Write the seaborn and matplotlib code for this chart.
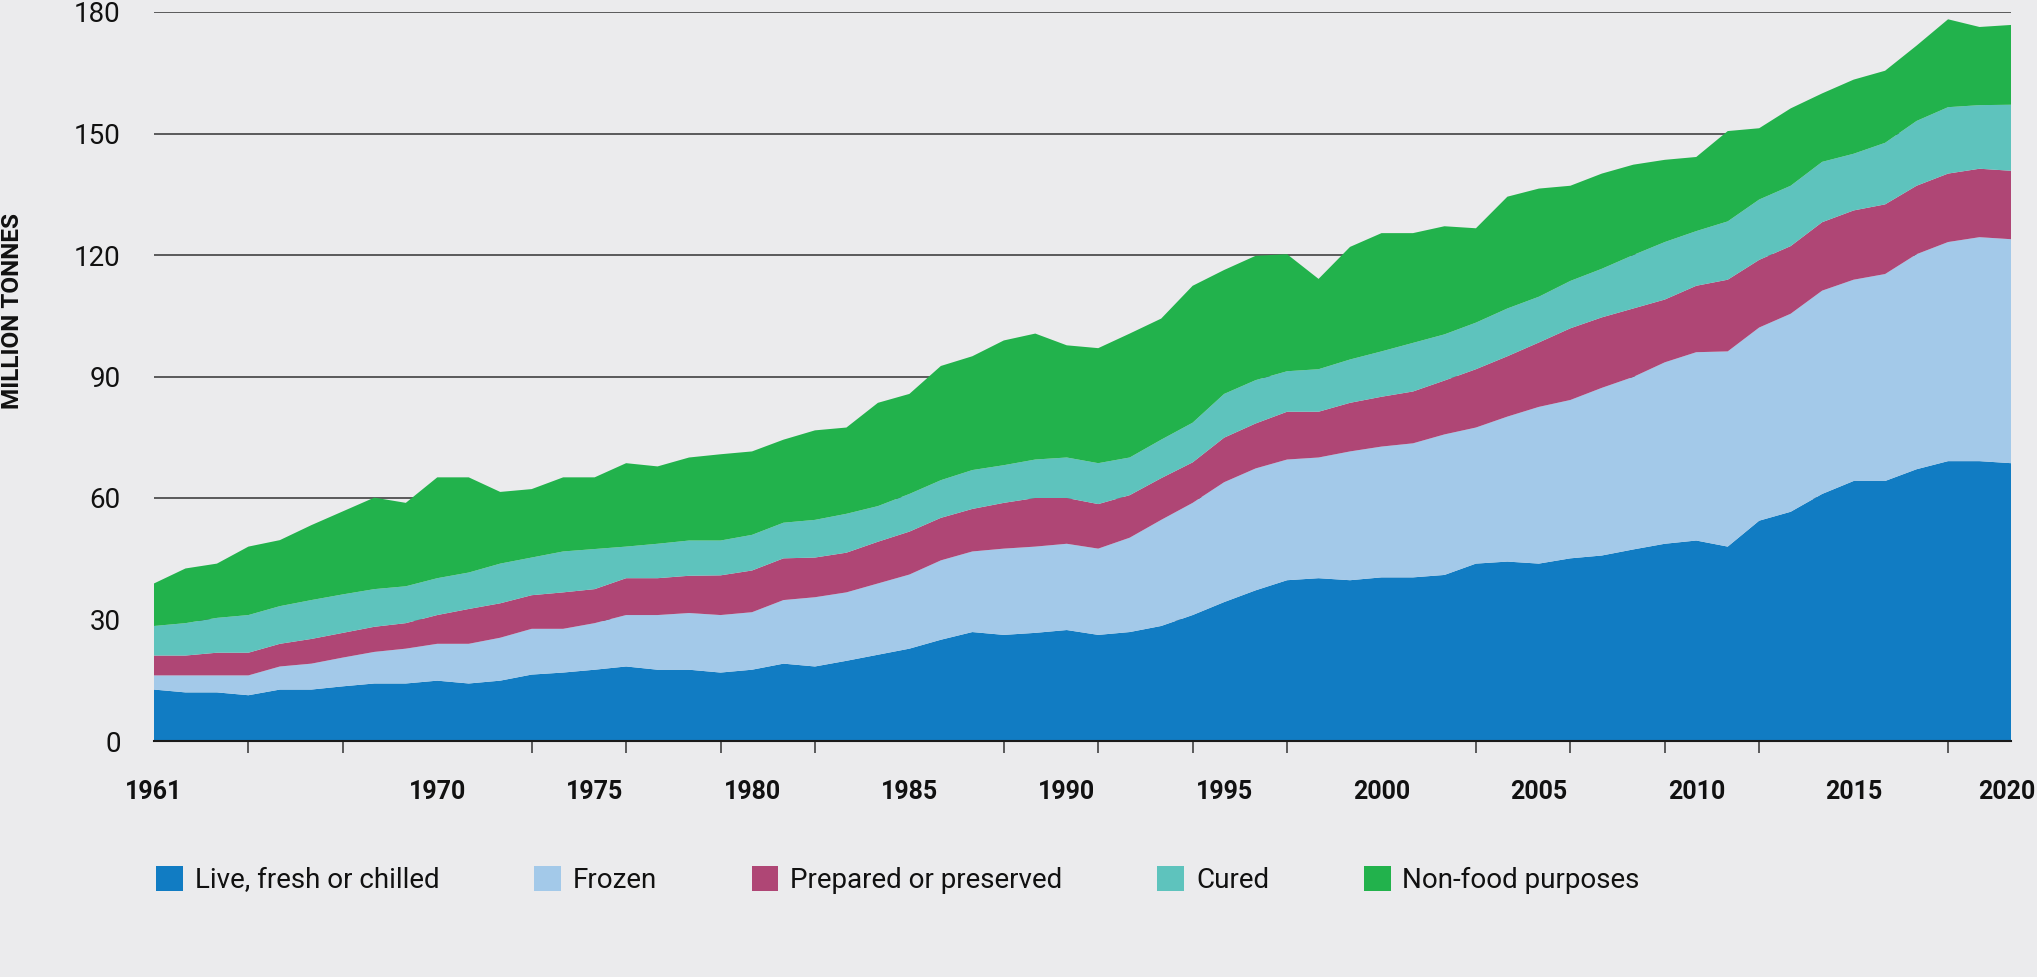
import matplotlib
matplotlib.use('Agg')
import matplotlib.pyplot as plt
import matplotlib.patches as mpatches
from matplotlib.transforms import offset_copy
import pandas as pd
import seaborn as sns


# data (million tonnes, per use)
years = list(range(1961, 2021))
live = [12.7, 12.0, 12.0, 11.3, 12.7, 12.7, 13.5, 14.2, 14.2, 14.9,
        14.2, 14.9, 16.4, 16.9, 17.6, 18.4, 17.6, 17.6, 16.9, 17.6,
        19.1, 18.4, 19.8, 21.3, 22.8, 25.0, 26.9, 26.2, 26.7, 27.4,
        26.2, 26.9, 28.4, 31.1, 34.3, 37.2, 39.7, 40.2, 39.7, 40.4,
        40.4, 41.0, 43.8, 44.3, 43.8, 45.1, 45.8, 47.3, 48.7, 49.5,
        48.0, 54.4, 56.6, 61.0, 64.2, 64.2, 67.1, 69.1, 69.1, 68.6]
frozen = [3.5, 4.2, 4.2, 4.9, 5.7, 6.4, 7.1, 7.8, 8.6, 9.1,
          9.8, 10.6, 11.3, 10.8, 11.5, 12.7, 13.5, 14.0, 14.2, 14.2,
          15.7, 17.1, 16.9, 17.6, 18.3, 19.6, 19.9, 21.3, 21.3, 21.3,
          21.3, 23.3, 26.2, 27.7, 29.6, 30.1, 29.8, 29.8, 31.8, 32.3,
          33.1, 34.7, 33.6, 35.8, 38.7, 39.1, 41.4, 42.6, 44.8, 46.5,
          48.2, 47.7, 48.9, 50.2, 49.7, 51.1, 53.1, 54.1, 55.3, 55.3]
prepared = [4.9, 4.9, 5.6, 5.6, 5.6, 6.1, 6.1, 6.2, 6.3, 7.1,
            8.6, 8.5, 8.3, 9.0, 8.4, 9.1, 9.1, 9.2, 9.8, 10.3,
            10.3, 9.8, 9.8, 10.3, 10.6, 10.5, 10.5, 11.3, 12.0, 11.3,
            11.0, 10.5, 10.3, 10.0, 11.0, 11.1, 11.8, 11.3, 12.0, 12.3,
            12.8, 13.3, 14.4, 14.9, 15.9, 17.7, 17.4, 16.9, 15.5, 16.4,
            17.7, 16.7, 16.7, 16.9, 17.1, 17.2, 16.9, 16.9, 16.9, 16.9]
cured = [7.3, 8.0, 8.6, 9.3, 9.3, 9.6, 9.5, 9.3, 9.1, 9.1,
         9.0, 9.8, 9.3, 10.1, 9.9, 7.8, 8.5, 8.7, 8.6, 8.8,
         8.8, 9.3, 9.6, 8.8, 9.3, 9.3, 9.6, 9.3, 9.5, 10.0,
         10.1, 9.3, 9.5, 9.8, 10.8, 10.7, 10.0, 10.5, 10.7, 11.2,
         12.0, 11.4, 11.5, 11.8, 11.3, 11.7, 12.0, 13.2, 14.2, 13.5,
         14.4, 14.9, 14.9, 14.9, 14.0, 15.2, 16.0, 16.4, 15.7, 16.3]
non_food = [10.5, 13.5, 13.4, 16.9, 16.3, 18.5, 20.5, 22.6, 20.6, 24.9,
            23.5, 17.7, 16.9, 18.3, 17.7, 20.6, 19.1, 20.5, 21.3, 20.6,
            20.5, 22.1, 21.3, 25.5, 24.7, 28.2, 28.1, 30.8, 31.1, 27.7,
            28.4, 30.6, 29.9, 33.8, 30.6, 30.7, 28.9, 22.3, 27.8, 29.2,
            27.1, 26.7, 23.3, 27.6, 26.7, 23.5, 23.5, 22.3, 20.3, 18.3,
            22.3, 17.6, 19.1, 16.9, 18.3, 17.8, 18.6, 21.7, 19.3, 19.7]

categories = ['Live, fresh or chilled', 'Frozen', 'Prepared or preserved',
              'Cured', 'Non-food purposes']
colors = ['#117cc3', '#a3c9e9', '#af4675', '#5ec3bd', '#22b24c']
y_ticks = [0, 30, 60, 90, 120, 150, 180]
x_label_years = [1961, 1970, 1975, 1980, 1985, 1990, 1995, 2000, 2005,
                 2010, 2015, 2020]
x_mark_years = [1961, 1964, 1967, 1970, 1973, 1976, 1979, 1982, 1985, 1988,
                1991, 1994, 1997, 2000, 2003, 2006, 2009, 2012, 2015, 2018,
                2020]
bg = '#ebebed'


# long form table for seaborn
frames = []
for name, vals in zip(categories, [live, frozen, prepared, cured, non_food]):
    frames.append(pd.DataFrame({'year': years, 'tonnes': vals, 'use': name}))
df = pd.concat(frames, ignore_index=True)


sns.set_theme(style='white')
plt.rcParams['font.family'] = ['Roboto', 'DejaVu Sans']
plt.rcParams['figure.facecolor'] = bg
plt.rcParams['axes.facecolor'] = bg

fig = plt.figure(figsize=(20.37, 9.77), dpi=100)
ax = fig.add_axes([154 / 2037, 1 - 741 / 977, (2011 - 154) / 2037, (741 - 12) / 977])

# stacked areas: first hue level ends up on top, so reverse the order
sns.histplot(data=df, x='year', weights='tonnes', hue='use',
             hue_order=categories[::-1], palette=dict(zip(categories, colors)),
             multiple='stack', element='poly', discrete=True, fill=True,
             alpha=1, linewidth=0, edgecolor='none', legend=False, ax=ax)

ax.set_xlim(1961, 2020)
ax.set_ylim(0, 180)
ax.set_xlabel('')
ax.set_ylabel('')

# gridlines behind the areas
ax.set_axisbelow(True)
ax.yaxis.grid(True, color='#333333', linewidth=1.1)
ax.xaxis.grid(False)
for side in ['top', 'right', 'left']:
    ax.spines[side].set_visible(False)
ax.spines['bottom'].set_color('#1a1a1a')
ax.spines['bottom'].set_linewidth(1.5)
ax.spines['bottom'].set_zorder(5)

ax.set_yticks(y_ticks)
ax.set_yticklabels([str(v) for v in y_ticks], fontsize=20, color='#111111')
ax.tick_params(axis='y', length=0, pad=24)

ax.set_xticks(x_label_years)
ax.set_xticklabels([str(v) for v in x_label_years], fontsize=18,
                   fontweight='bold', color='#111111')
ax.set_xticks(x_mark_years, minor=True)
ax.tick_params(axis='x', which='major', length=0, pad=28)
ax.tick_params(axis='x', which='minor', bottom=True, length=8.6, width=1.1,
               color='#333333', direction='out')

# last year label sits against the right edge
last = ax.get_xticklabels()[-1]
last.set_transform(offset_copy(last.get_transform(), fig=fig, x=-4, units='dots'))

fig.text(13 / 2037, 1 - 311 / 977, 'MILLION TONNES', rotation=90,
         ha='center', va='center', fontsize=17.5, fontweight='bold', color='#111111')

# legend along the bottom
handles = [mpatches.Patch(facecolor=c, edgecolor='none') for c in colors]
fig.legend(handles, categories, loc='center left',
           bbox_to_anchor=(156 / 2037, 1 - 880 / 977), ncol=5, frameon=False,
           fontsize=20, handlelength=0.97, handleheight=1.0,
           handletextpad=0.43, columnspacing=3.4, borderpad=0, borderaxespad=0,
           labelcolor='#111111')

fig.savefig('out.png', dpi=100, facecolor=bg)
